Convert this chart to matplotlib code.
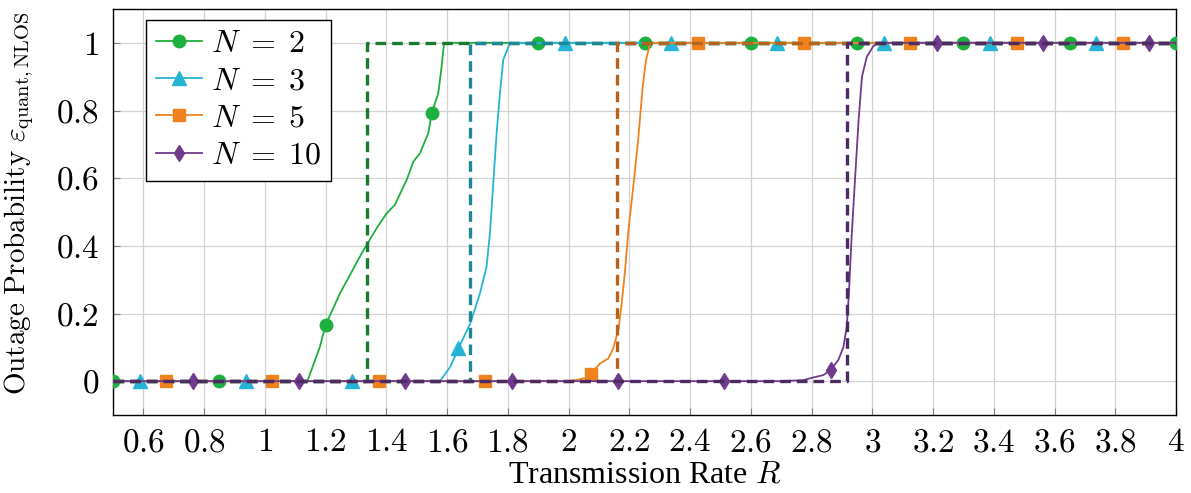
import numpy as np
import matplotlib
matplotlib.use("Agg")
import matplotlib.pyplot as plt

# ---------------- data ----------------
R_N2 = [0.5, 0.85, 1.14, 1.181, 1.2, 1.247, 1.319, 1.368, 1.401, 1.428, 1.467, 1.489,
        1.511, 1.538, 1.55, 1.571, 1.582, 1.59, 1.9, 2.25, 2.6, 2.95, 3.3, 3.65, 4.0]
EPS_N2 = [0, 0, 0, 0.101, 0.166, 0.259, 0.378, 0.452, 0.496, 0.521, 0.595, 0.649,
          0.674, 0.733, 0.794, 0.851, 0.93, 1.0, 1, 1, 1, 1, 1, 1, 1]
MARK_R_N2 = [0.5, 0.85, 1.2, 1.55, 1.9, 2.25, 2.6, 2.95, 3.3, 3.65, 4.0]

R_N3 = [0.5, 0.5875, 0.9375, 1.2875, 1.577, 1.61, 1.6375, 1.676, 1.708, 1.730, 1.741,
        1.752, 1.763, 1.774, 1.785, 1.807, 1.9875, 2.3375, 2.6875, 3.0375, 3.3875,
        3.7375, 4.0]
EPS_N3 = [0, 0, 0, 0, 0, 0.042, 0.097, 0.170, 0.259, 0.338, 0.437,
          0.584, 0.732, 0.851, 0.95, 1.0, 1, 1, 1, 1, 1, 1, 1]
MARK_R_N3 = [0.5875, 0.9375, 1.2875, 1.6375, 1.9875, 2.3375, 2.6875, 3.0375, 3.3875, 3.7375]

R_N5 = [0.5, 0.675, 1.025, 1.375, 1.725, 2.005, 2.06, 2.075, 2.103, 2.131, 2.147, 2.164,
        2.175, 2.186, 2.197, 2.213, 2.230, 2.244, 2.255, 2.268, 2.28, 2.425, 2.775,
        3.125, 3.475, 3.825, 4.0]
EPS_N5 = [0, 0, 0, 0, 0, 0, 0.01, 0.022, 0.052, 0.067, 0.097, 0.151,
          0.230, 0.328, 0.446, 0.574, 0.722, 0.870, 0.949, 0.998, 1.0, 1, 1,
          1, 1, 1, 1]
MARK_R_N5 = [0.675, 1.025, 1.375, 1.725, 2.075, 2.425, 2.775, 3.125, 3.475, 3.825]

R_N10 = [0.5, 0.7625, 1.1125, 1.4625, 1.8125, 2.1625, 2.5125, 2.696, 2.773, 2.806, 2.839,
         2.8625, 2.888, 2.905, 2.916, 2.923, 2.932, 2.943, 2.955, 2.966, 2.982, 3.004,
         3.02, 3.2125, 3.5625, 3.9125, 4.0]
EPS_N10 = [0, 0, 0, 0, 0, 0, 0, 0, 0.003, 0.011, 0.018,
           0.033, 0.062, 0.101, 0.161, 0.259, 0.427, 0.595, 0.772, 0.900, 0.959, 0.991,
           1.0, 1, 1, 1, 1]
MARK_R_N10 = [0.7625, 1.1125, 1.4625, 1.8125, 2.1625, 2.5125, 2.8625, 3.2125, 3.5625, 3.9125]

THRESHOLDS = [1.335, 1.675, 2.161, 2.916]   # dashed step positions
LABELS = [r"$N\;=\;2$", r"$N\;=\;3$", r"$N\;=\;5$", r"$N\;=\;10$"]

X_TICKS = [0.6, 0.8, 1, 1.2, 1.4, 1.6, 1.8, 2, 2.2, 2.4, 2.6, 2.8, 3, 3.2, 3.4, 3.6, 3.8, 4]
X_TICK_LABELS = ["0.6", "0.8", "1", "1.2", "1.4", "1.6", "1.8", "2", "2.2", "2.4", "2.6",
                 "2.8", "3", "3.2", "3.4", "3.6", "3.8", "4"]
Y_TICKS = [0, 0.2, 0.4, 0.6, 0.8, 1]
Y_TICK_LABELS = ["0", "0.2", "0.4", "0.6", "0.8", "1"]

# ---------------- style ----------------
plt.rcParams['font.family'] = ['Liberation Serif', 'DejaVu Serif']
plt.rcParams['mathtext.fontset'] = 'cm'
FS = 23

colors = ["#1db03e", "#26b4d6", "#f0821e", "#6f3b8c"]
dcolors = ["#1a7a30", "#1f8898", "#b5621c", "#4c2a63"]
markers = ["o", "^", "s", "d"]
msizes = [9, 9.5, 9, 8]

series = [(R_N2, EPS_N2, MARK_R_N2), (R_N3, EPS_N3, MARK_R_N3),
          (R_N5, EPS_N5, MARK_R_N5), (R_N10, EPS_N10, MARK_R_N10)]

fig = plt.figure(figsize=(11.91, 4.93), dpi=100)
ax = fig.add_axes([113 / 1191, (493 - 415) / 493, 1063 / 1191, 406 / 493])

handles = []
for i, (r, e, mr) in enumerate(series):
    r = np.asarray(r)
    idx = [int(np.argmin(np.abs(r - m))) for m in mr]
    h, = ax.plot(r, e, color=colors[i], lw=1.3, marker=markers[i], markevery=idx,
                 ms=msizes[i], mec=colors[i], mfc=colors[i], label=LABELS[i],
                 zorder=3 + i * 0.1)
    handles.append(h)
    t = THRESHOLDS[i]
    ax.plot([0.5, t, t, 4.0], [0, 0, 1, 1], color=dcolors[i], lw=2.4,
            dashes=(3.2, 1.8), zorder=3.05 + i * 0.1)

ax.set_xlim(0.5, 4.0)
ax.set_ylim(-0.1, 1.1)
ax.set_xticks(X_TICKS)
ax.set_xticklabels(["$%s$" % s for s in X_TICK_LABELS])
ax.set_yticks(Y_TICKS)
ax.set_yticklabels(["$%s$" % s for s in Y_TICK_LABELS])
ax.tick_params(axis='both', direction='in', length=5, width=0.8, color='#808080',
               labelsize=24)
ax.tick_params(axis='x', pad=9)
ax.tick_params(axis='y', pad=10)
ax.grid(True, color='#d3d3d3', lw=0.9)
ax.set_axisbelow(True)
for s in ax.spines.values():
    s.set_linewidth(1.0)
    s.set_color('black')

ax.set_xlabel("Transmission Rate $R$", fontsize=FS, labelpad=2)
ax.set_ylabel(r"$\mathrm{Outage\ Probability}\ \varepsilon_{\mathrm{quant,NLOS}}$",
              fontsize=21)
ax.yaxis.set_label_coords(-0.072, 0.522)

leg = ax.legend(handles=handles, loc='upper left', bbox_to_anchor=(0.031, 0.973),
                borderaxespad=0, fontsize=FS, fancybox=False, framealpha=1,
                edgecolor='black', handlelength=1.45, handletextpad=0.3,
                labelspacing=0.25, borderpad=0.3)
leg.get_frame().set_linewidth(1.0)

fig.savefig("out.png", dpi=100)
